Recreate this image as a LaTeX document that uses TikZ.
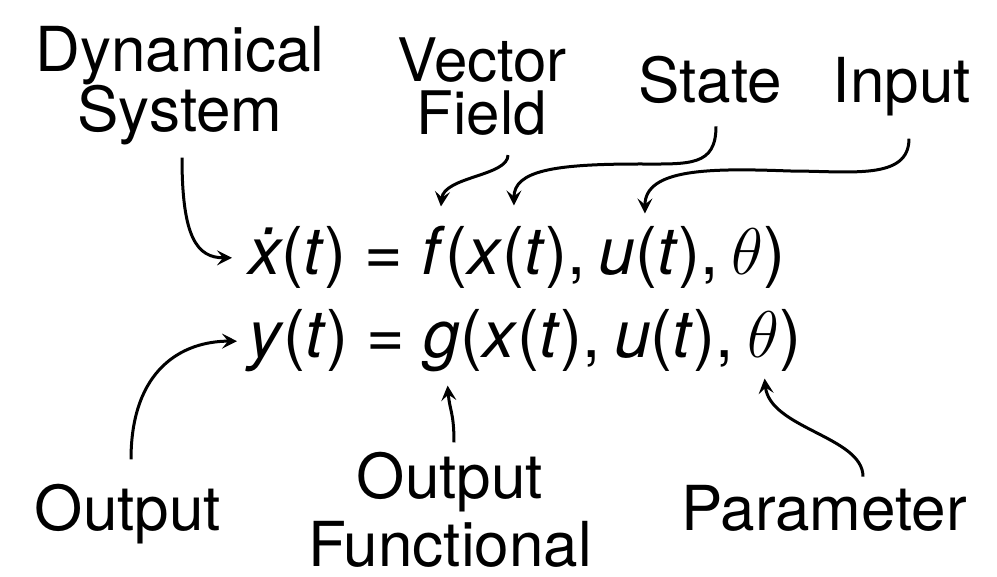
\RequirePackage{fix-cm}
\documentclass[tikz,border=0pt]{standalone}
\usepackage{fontspec}
\setmainfont{TeX Gyre Heros}
\usetikzlibrary{arrows.meta}

\begin{document}
\begin{tikzpicture}[x=1pt, y=-1pt,
    >={Stealth[length=15pt, width=15pt, inset=6pt]},
    lbl/.style={align=center, inner sep=0pt, anchor=base},
    eqn/.style={inner sep=0pt, anchor=base west, font=\fontsize{66}{70}\selectfont},
    conn/.style={->, line width=3pt}]
   \useasboundingbox (0,0) rectangle (997,577);

   % the two equations
   \node[eqn] (eqf) at (248,275) {\textit{\.x}(\textit{t}) = \textit{f}(\textit{x}(\textit{t}),\hspace{0.2em}\textit{u}(\textit{t}),\hspace{0.2em}$\theta$)};
   \node[eqn] (eqg) at (248,358) {\textit{y}(\textit{t}) = \textit{g}(\textit{x}(\textit{t}),\hspace{0.2em}\textit{u}(\textit{t}),\hspace{0.2em}$\theta$)};

   % labels above (base = last line)
   \node[lbl, font=\fontsize{62}{60}\selectfont] (dyn) at (180,132) {Dynamical\\System};
   \node[lbl, font=\fontsize{60}{53}\selectfont] (vec) at (482,135) {Vector\\Field};
   \node[lbl, font=\fontsize{62}{60}\selectfont] (state) at (710,103) {State};
   \node[lbl, font=\fontsize{62}{60}\selectfont] (input) at (902,103) {Input};

   % labels below
   \node[lbl, font=\fontsize{62}{60}\selectfont] (out) at (128,530) {Output};
   \node[lbl, font=\fontsize{62}{68}\selectfont] (outfun) at (450,566) {Output\\Functional};
   \node[lbl, font=\fontsize{62}{60}\selectfont] (param) at (824,530) {Parameter};

   % connectors to the first equation
   \draw[conn] ([xshift=2pt,yshift=-12pt]dyn.south)
      .. controls +(0,80) and +(-35,0) .. ([xshift=-16pt]eqf.west);
   \draw[conn] ([xshift=26pt,yshift=-19pt]vec.south)
      .. controls +(0,21) and +(3,-30) .. ([xshift=-76pt,yshift=20pt]eqf.north);
   \draw[conn] ([xshift=6pt,yshift=-22pt]state.south)
      .. controls +(0,40) and +(50,0) .. (640,164)
      .. controls +(-85,0) and +(0,-35) .. ([xshift=-3pt,yshift=21pt]eqf.north);
   \draw[conn] ([xshift=7pt,yshift=-22pt]input.south)
      .. controls +(0,42) and +(60,0) .. (790,171)
      .. controls +(-80,-3) and +(0,-45) .. ([xshift=128pt,yshift=13pt]eqf.north);

   % connectors to the second equation
   \draw[conn] ([xshift=3pt,yshift=24pt]out.north)
      .. controls +(0,-90) and +(-55,0) .. ([xshift=-11pt]eqg.west);
   \draw[conn] ([xshift=4pt,yshift=9pt]outfun.north)
      .. controls +(0,-30) and +(2,25) .. ([xshift=-77pt,yshift=-13pt]eqg.south);
   \draw[conn] ([xshift=39pt,yshift=8pt]param.north)
      .. controls +(0,-40) and +(5,50) .. ([xshift=240pt,yshift=-6pt]eqg.south);
\end{tikzpicture}
\end{document}
